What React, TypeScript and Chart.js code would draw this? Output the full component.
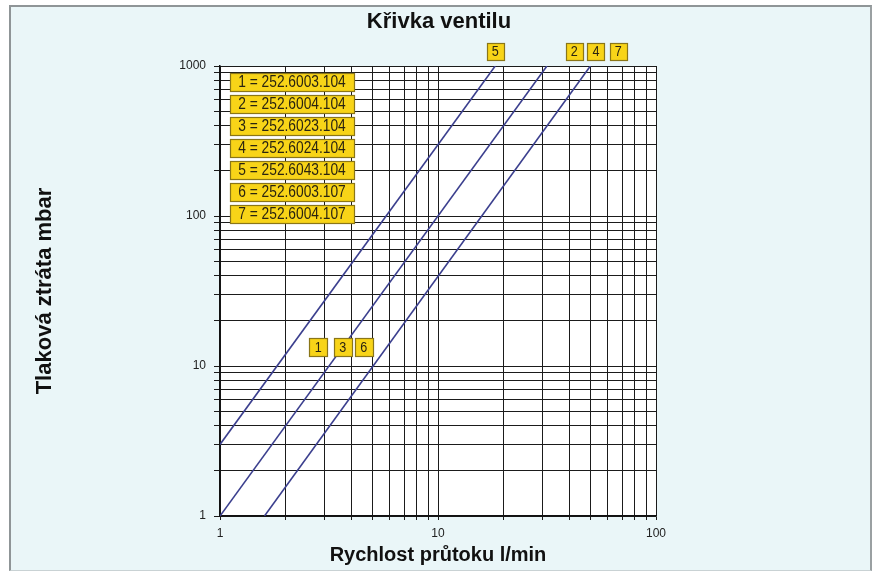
import React, { useEffect, useRef } from 'react';
import { Chart, registerables } from 'chart.js';

Chart.register(...registerables);

// ---------- text ----------
const chartTitle = 'Křivka ventilu';
const xAxisTitle = 'Rychlost průtoku l/min';
const yAxisTitle = 'Tlaková ztráta mbar';

// ---------- axes ----------
const xMin = 1;
const xMax = 100;
const yMin = 1;
const yMax = 1000;
const xTickValues = [1, 10, 100];
const xTickLabels = ['1', '10', '100'];
const yTickValues = [1, 10, 100, 1000];
const yTickLabels = ['1', '10', '100', '1000'];
const gridMultipliers = [1, 2, 3, 4, 5, 6, 7, 8, 9];

// ---------- curves (flow l/min -> pressure loss mbar) ----------
const curveNames = ['Křivka A', 'Křivka B', 'Křivka C'];
const curveAFlow = [1, 18.3];
const curveAPressure = [3, 1000];
const curveBFlow = [1, 31.6];
const curveBPressure = [1, 1000];
const curveCFlow = [1.6, 50];
const curveCPressure = [1, 1000];

// ---------- legend ----------
const legendEntries = [
  '1 = 252.6003.104',
  '2 = 252.6004.104',
  '3 = 252.6023.104',
  '4 = 252.6024.104',
  '5 = 252.6043.104',
  '6 = 252.6003.107',
  '7 = 252.6004.107',
];

// ---------- curve markers (data coordinates) ----------
const topMarkers = ['5', '2', '4', '7'];
const topMarkerFlow = [18.3, 42.2, 53.0, 67.2];
const topMarkerPressure = [1250, 1250, 1250, 1250];
const bottomMarkers = ['1', '3', '6'];
const bottomMarkerFlow = [2.82, 3.66, 4.57];
const bottomMarkerPressure = [13.3, 13.3, 13.3];

const SANS = "'Liberation Sans', Arial, Helvetica, sans-serif";
const LINE_COLOR = '#3b3f8e';
const BOX_FILL = '#f8d418';
const BOX_STROKE = '#8a7618';

function toPoints(xs: number[], ys: number[]) {
  return xs.map((x, i) => ({ x, y: ys[i] }));
}

function gridTicks(min: number, max: number) {
  const out: { value: number }[] = [];
  for (let d = min; d < max; d *= 10) {
    gridMultipliers.forEach((m) => out.push({ value: d * m }));
  }
  out.push({ value: max });
  return out;
}

function drawBox(
  ctx: CanvasRenderingContext2D,
  cx: number,
  cy: number,
  w: number,
  h: number,
  text: string,
  font: string,
  squeeze: number
) {
  const x = Math.round(cx - w / 2) + 0.5;
  const y = Math.round(cy - h / 2) + 0.5;
  ctx.fillStyle = BOX_FILL;
  ctx.fillRect(x, y, w, h);
  ctx.strokeStyle = BOX_STROKE;
  ctx.lineWidth = 1.2;
  ctx.strokeRect(x, y, w, h);
  ctx.save();
  ctx.translate(cx, cy + 1);
  ctx.scale(squeeze, 1);
  ctx.fillStyle = '#2a2410';
  ctx.font = font;
  ctx.textAlign = 'center';
  ctx.textBaseline = 'middle';
  ctx.fillText(text, 0, 0);
  ctx.restore();
}

const annotationPlugin = {
  id: 'valveAnnotations',
  beforeDraw(chart: any) {
    const { ctx, chartArea: a } = chart;
    ctx.save();
    ctx.fillStyle = '#ffffff';
    ctx.fillRect(a.left, a.top, a.right - a.left, a.bottom - a.top);
    ctx.restore();
  },
  afterDraw(chart: any) {
    const { ctx, chartArea: a, scales } = chart;
    const xs = scales.x;
    const ys = scales.y;
    ctx.save();
    const lw = 124;
    const lh = 18;
    legendEntries.forEach((t, i) => {
      const cx = a.left + 10 + lw / 2;
      const cy = a.top + 7 + lh / 2 + i * 22;
      drawBox(ctx, cx, cy, lw, lh, t, `16px ${SANS}`, 0.86);
    });
    const mFont = `14px ${SANS}`;
    topMarkers.forEach((t, i) => {
      drawBox(ctx, xs.getPixelForValue(topMarkerFlow[i]), ys.getPixelForValue(topMarkerPressure[i]), 17, 17, t, mFont, 0.9);
    });
    bottomMarkers.forEach((t, i) => {
      drawBox(ctx, xs.getPixelForValue(bottomMarkerFlow[i]), ys.getPixelForValue(bottomMarkerPressure[i]), 18, 18, t, mFont, 0.9);
    });
    ctx.restore();
  },
};

export default function App() {
  const canvasRef = useRef<HTMLCanvasElement | null>(null);

  useEffect(() => {
    document.body.style.margin = '0';
    const canvas = canvasRef.current;
    if (!canvas) return;
    const curves = [
      toPoints(curveAFlow, curveAPressure),
      toPoints(curveBFlow, curveBPressure),
      toPoints(curveCFlow, curveCPressure),
    ];
    const chart = new Chart(canvas, {
      type: 'line',
      data: {
        datasets: curves.map((pts, i) => ({
          label: curveNames[i],
          data: pts,
          borderColor: LINE_COLOR,
          borderWidth: 1.6,
          pointRadius: 0,
          fill: false,
          tension: 0,
          yAxisID: 'y',
        })),
      },
      options: {
        responsive: false,
        animation: false,
        devicePixelRatio: 1,
        layout: { padding: { left: 0, right: 0, top: 0, bottom: 0 } },
        plugins: {
          legend: { display: false },
          tooltip: { enabled: false },
          title: {
            display: true,
            text: chartTitle,
            color: '#111111',
            font: { family: SANS, size: 22, weight: 'bold', lineHeight: 1.2 },
            padding: { top: 9, bottom: 30.6 },
          },
        },
        scales: {
          x: {
            type: 'logarithmic',
            position: 'bottom',
            min: xMin,
            max: xMax,
            afterBuildTicks: (scale: any) => {
              scale.ticks = gridTicks(xMin, xMax);
            },
            afterFit: (scale: any) => {
              scale.height = 56;
            },
            grid: { color: '#1b1b1b', lineWidth: 1, tickLength: 4, drawTicks: true },
            border: { display: true, color: '#111111', width: 1.5 },
            ticks: {
              autoSkip: false,
              maxRotation: 0,
              padding: 6,
              color: '#222222',
              font: { family: SANS, size: 12 },
              callback: (v: any) => {
                const idx = xTickValues.indexOf(Number(v));
                return idx >= 0 ? xTickLabels[idx] : '';
              },
            },
            title: {
              display: true,
              text: xAxisTitle,
              color: '#111111',
              font: { family: SANS, size: 20, weight: 'bold', lineHeight: 1.2 },
              padding: { top: 0, bottom: 5 },
            },
          },
          y: {
            type: 'logarithmic',
            position: 'left',
            min: yMin,
            max: yMax,
            afterBuildTicks: (scale: any) => {
              scale.ticks = gridTicks(yMin, yMax);
            },
            afterFit: (scale: any) => {
              scale.width = 220;
            },
            grid: { color: '#1b1b1b', lineWidth: 1, tickLength: 6, drawTicks: true },
            border: { display: true, color: '#111111', width: 1.5 },
            ticks: {
              autoSkip: false,
              padding: 8,
              color: '#222222',
              font: { family: SANS, size: 12 },
              callback: (v: any) => {
                const idx = yTickValues.indexOf(Number(v));
                return idx >= 0 ? yTickLabels[idx] : '';
              },
            },
            title: {
              display: true,
              text: yAxisTitle,
              color: '#111111',
              font: { family: SANS, size: 22, weight: 'bold', lineHeight: 1.2 },
              padding: { top: 32, bottom: 0 },
            },
          },
          spacer: {
            type: 'linear',
            position: 'right',
            display: true,
            grid: { display: false, drawTicks: false },
            border: { display: false },
            ticks: { display: false },
            afterFit: (scale: any) => {
              scale.width = 222;
            },
          },
        },
      },
      plugins: [annotationPlugin],
    } as any);
    return () => chart.destroy();
  }, []);

  return (
    <div style={{ position: 'relative', width: 878, height: 572, background: '#ffffff', overflow: 'hidden' }}>
      <div
        style={{
          position: 'absolute',
          left: 9,
          top: 5,
          width: 859,
          height: 563,
          background: '#eaf6f8',
          borderLeft: '2px solid #8f9597',
          borderTop: '2px solid #8f9597',
          borderRight: '2px solid #9aa0a2',
          borderBottom: '1px solid #c9d2d4',
        }}
      />
      <canvas ref={canvasRef} width={878} height={572} style={{ position: 'absolute', left: 0, top: 0 }} />
    </div>
  );
}
